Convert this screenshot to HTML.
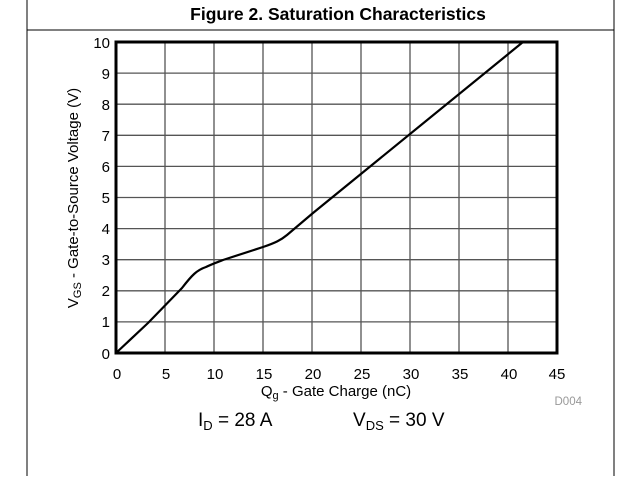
<!DOCTYPE html>
<html><head><style>
body{margin:0;background:#fff;width:617px;height:476px;overflow:hidden}
svg text{font-family:"Liberation Sans",Arial,sans-serif}
</style></head><body>
<svg width="617" height="476" viewBox="0 0 617 476">
<line x1="27" y1="0" x2="27" y2="476" stroke="#000" stroke-width="1"/>
<line x1="614" y1="0" x2="614" y2="476" stroke="#000" stroke-width="1"/>
<line x1="27" y1="30" x2="614" y2="30" stroke="#000" stroke-width="1"/>
<text x="338" y="20" font-size="17.5" font-weight="bold" text-anchor="middle">Figure 2. Saturation Characteristics</text>
<g stroke="#555" stroke-width="1.3">
<line x1="165" y1="42" x2="165" y2="353"/><line x1="214" y1="42" x2="214" y2="353"/>
<line x1="263" y1="42" x2="263" y2="353"/><line x1="312" y1="42" x2="312" y2="353"/>
<line x1="361" y1="42" x2="361" y2="353"/><line x1="410" y1="42" x2="410" y2="353"/>
<line x1="459" y1="42" x2="459" y2="353"/><line x1="508" y1="42" x2="508" y2="353"/>
<line x1="116" y1="73.1" x2="557" y2="73.1"/><line x1="116" y1="104.2" x2="557" y2="104.2"/>
<line x1="116" y1="135.3" x2="557" y2="135.3"/><line x1="116" y1="166.4" x2="557" y2="166.4"/>
<line x1="116" y1="197.5" x2="557" y2="197.5"/><line x1="116" y1="228.6" x2="557" y2="228.6"/>
<line x1="116" y1="259.7" x2="557" y2="259.7"/><line x1="116" y1="290.8" x2="557" y2="290.8"/>
<line x1="116" y1="321.9" x2="557" y2="321.9"/>
</g>
<rect x="116" y="42" width="441" height="311" fill="none" stroke="#000" stroke-width="3"/>
<path d="M116,353 L148,323 L182,288 C192,275 197,270 206,267 C212,264 218,262 223,260 L263,247 C275,243 281,240 287,235 L313,213 L523,42" fill="none" stroke="#000" stroke-width="2.2" stroke-linejoin="round"/>
<g font-size="15" text-anchor="end">
<text x="110" y="48">10</text><text x="110" y="79">9</text><text x="110" y="110">8</text>
<text x="110" y="141">7</text><text x="110" y="172">6</text><text x="110" y="203">5</text>
<text x="110" y="234">4</text><text x="110" y="265">3</text><text x="110" y="296">2</text>
<text x="110" y="327">1</text><text x="110" y="359">0</text>
</g>
<g font-size="15" text-anchor="middle">
<text x="117" y="379">0</text><text x="166" y="379">5</text><text x="215" y="379">10</text>
<text x="264" y="379">15</text><text x="313" y="379">20</text><text x="362" y="379">25</text>
<text x="411" y="379">30</text><text x="460" y="379">35</text><text x="509" y="379">40</text>
<text x="557" y="379">45</text>
</g>
<text x="336" y="396" font-size="15" text-anchor="middle">Q<tspan font-size="11" dy="3">g</tspan><tspan dy="-3"> - Gate Charge (nC)</tspan></text>
<text x="582" y="405" font-size="11.5" fill="#999" text-anchor="end">D004</text>
<text transform="translate(78,198) rotate(-90)" font-size="15" text-anchor="middle">V<tspan font-size="11" dy="3">GS</tspan><tspan dy="-3"> - Gate-to-Source Voltage (V)</tspan></text>
<text x="198" y="426" font-size="19">I<tspan font-size="13" dy="4">D</tspan><tspan dy="-4"> = 28 A</tspan></text>
<text x="353" y="426" font-size="19">V<tspan font-size="13" dy="4">DS</tspan><tspan dy="-4"> = 30 V</tspan></text>
</svg>
</body></html>
